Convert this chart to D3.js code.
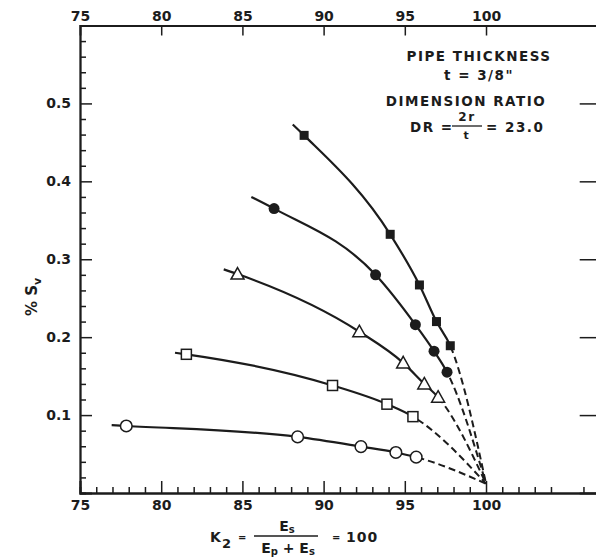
<!DOCTYPE html>
<html>
<head>
<meta charset="utf-8">
<script src="https://cdn.jsdelivr.net/npm/d3@7"></script>
<style>
  body { margin: 0; background: #fff; }
  svg { display: block; font-family: "DejaVu Sans", sans-serif; font-weight: bold; }
</style>
</head>
<body>
<div id="chart"></div>
<script>
// --- data ---
const k2Ticks = [75, 80, 85, 90, 95, 100];
const k2Minor = d3.range(76, 107);
const svTicks = [0.1, 0.2, 0.3, 0.4, 0.5];
const svMinor = d3.range(0.02, 0.6, 0.02);

const filledSquareK2 = [88.8, 94.1, 95.9, 96.95, 97.8];
const filledSquareSv = [0.459, 0.332, 0.267, 0.220, 0.189];
const filledCircleK2 = [86.95, 93.2, 95.65, 96.8, 97.6];
const filledCircleSv = [0.365, 0.280, 0.216, 0.182, 0.155];
const triangleK2 = [84.7, 92.2, 94.9, 96.2, 97.05];
const triangleSv = [0.281, 0.207, 0.167, 0.140, 0.123];
const openSquareK2 = [81.55, 90.55, 93.9, 95.5];
const openSquareSv = [0.178, 0.138, 0.114, 0.098];
const openCircleK2 = [77.85, 88.4, 92.3, 94.45, 95.7];
const openCircleSv = [0.086, 0.072, 0.0595, 0.052, 0.046];

// where each faired curve starts (a little left of its first point)
const curveStartK2 = [88.1, 85.55, 83.85, 80.85, 76.95];
const curveStartSv = [0.473, 0.380, 0.287, 0.180, 0.087];
// dashed extrapolations all meet here
const meetK2 = 100, meetSv = 0.012;

const ink = "#1c1c1c";
const W = 596, H = 559;

const svg = d3.select("#chart").append("svg")
  .attr("width", W).attr("height", H);

const x = d3.scaleLinear().domain([75, 107]).range([80, 599.7]);
const y = d3.scaleLinear().domain([0, 0.6]).range([493, 25.5]);

// --- axes ---
const axisStyle = g => {
  g.select(".domain").attr("stroke", ink).attr("stroke-width", 1.8);
  g.selectAll(".tick line").attr("stroke", ink).attr("stroke-width", 1.5);
  g.selectAll(".tick text").attr("fill", ink).attr("font-size", 14)
    .attr("font-family", "DejaVu Sans").attr("font-weight", "bold");
};

// bottom: minor every 1, major every 5, ticks pointing in
svg.append("g")
  .attr("transform", `translate(0,${y(0)})`)
  .call(d3.axisBottom(x).tickValues(k2Minor.filter(v => v % 5 !== 0))
    .tickSize(-6).tickFormat(""))
  .call(axisStyle);
svg.append("g")
  .attr("transform", `translate(0,${y(0)})`)
  .call(d3.axisBottom(x).tickValues(k2Ticks).tickSize(-12))
  .call(axisStyle)
  .call(g => g.selectAll(".tick text").attr("dy", "0.35em").attr("y", 12));

// top: major only
svg.append("g")
  .attr("transform", `translate(0,${y(0.6)})`)
  .call(d3.axisTop(x).tickValues(k2Ticks).tickSize(-10))
  .call(axisStyle)
  .call(g => g.selectAll(".tick line").filter(d => d === 75).remove())
  .call(g => g.selectAll(".tick text").attr("y", -5));

// left: minor every 0.02, major every 0.1
svg.append("g")
  .attr("transform", `translate(${x(75)},0)`)
  .call(d3.axisLeft(y).tickValues(svMinor.filter(v => Math.round(v * 100) % 10 !== 0))
    .tickSize(-6).tickFormat(""))
  .call(axisStyle);
svg.append("g")
  .attr("transform", `translate(${x(75)},0)`)
  .call(d3.axisLeft(y).tickValues(svTicks).tickSize(-12)
    .tickFormat(d3.format(".1f")))
  .call(axisStyle)
  .call(g => g.selectAll(".tick text").attr("x", -9));

// right: major only
svg.append("g")
  .attr("transform", `translate(${x(107)},0)`)
  .call(d3.axisRight(y).tickValues(svTicks).tickSize(-20).tickFormat(""))
  .call(axisStyle);

// --- curves ---
const series = [
  { k2: filledSquareK2, sv: filledSquareSv, mark: "fsquare" },
  { k2: filledCircleK2, sv: filledCircleSv, mark: "fcircle" },
  { k2: triangleK2, sv: triangleSv, mark: "triangle" },
  { k2: openSquareK2, sv: openSquareSv, mark: "osquare" },
  { k2: openCircleK2, sv: openCircleSv, mark: "ocircle" }
];

const line = d3.line()
  .x(d => x(d[0])).y(d => y(d[1]))
  .curve(d3.curveMonotoneX);

const defs = svg.append("defs");

series.forEach((s, i) => {
  const pts = [[curveStartK2[i], curveStartSv[i]]]
    .concat(s.k2.map((k, j) => [k, s.sv[j]]))
    .concat([[meetK2, meetSv]]);
  const cut = x(s.k2[s.k2.length - 1]);

  defs.append("clipPath").attr("id", "solid" + i)
    .append("rect").attr("x", 0).attr("y", 0).attr("width", cut).attr("height", H);
  defs.append("clipPath").attr("id", "dash" + i)
    .append("rect").attr("x", cut).attr("y", 0).attr("width", W - cut).attr("height", H);

  svg.append("path").datum(pts)
    .attr("d", line).attr("fill", "none")
    .attr("stroke", ink).attr("stroke-width", 2.2)
    .attr("clip-path", `url(#solid${i})`);
  svg.append("path").datum(pts)
    .attr("d", line).attr("fill", "none")
    .attr("stroke", ink).attr("stroke-width", 2)
    .attr("stroke-dasharray", "7,4")
    .attr("clip-path", `url(#dash${i})`);
});

// --- markers ---
series.forEach(s => {
  const g = svg.append("g");
  s.k2.forEach((k, j) => {
    const cx = x(k), cy = y(s.sv[j]);
    if (s.mark === "fsquare") {
      g.append("rect").attr("x", cx - 4.5).attr("y", cy - 4.5)
        .attr("width", 9).attr("height", 9).attr("fill", ink);
    } else if (s.mark === "fcircle") {
      g.append("circle").attr("cx", cx).attr("cy", cy).attr("r", 5.5).attr("fill", ink);
    } else if (s.mark === "triangle") {
      g.append("path")
        .attr("d", `M${cx},${cy - 6.5}L${cx + 6.5},${cy + 5}L${cx - 6.5},${cy + 5}Z`)
        .attr("fill", "#fff").attr("stroke", ink).attr("stroke-width", 1.5);
    } else if (s.mark === "osquare") {
      g.append("rect").attr("x", cx - 5).attr("y", cy - 5)
        .attr("width", 10).attr("height", 10)
        .attr("fill", "#fff").attr("stroke", ink).attr("stroke-width", 1.5);
    } else {
      g.append("circle").attr("cx", cx).attr("cy", cy).attr("r", 5.8)
        .attr("fill", "#fff").attr("stroke", ink).attr("stroke-width", 1.5);
    }
  });
});

// --- annotation block ---
const note = svg.append("g").attr("fill", ink).attr("font-size", 13.5)
  .attr("text-anchor", "middle").attr("letter-spacing", 1.5);
note.append("text").attr("x", 479).attr("y", 61).text("PIPE THICKNESS");
note.append("text").attr("x", 479).attr("y", 80).text("t = 3/8\"");
note.append("text").attr("x", 466).attr("y", 106).text("DIMENSION RATIO");
note.append("text").attr("x", 410).attr("y", 132).attr("text-anchor", "start").text("DR =");
note.append("text").attr("x", 467).attr("y", 121).attr("font-size", 12).text("2r");
note.append("line").attr("x1", 452).attr("x2", 482).attr("y1", 126).attr("y2", 126)
  .attr("stroke", ink).attr("stroke-width", 1.3);
note.append("text").attr("x", 467).attr("y", 139).attr("font-size", 11).text("t");
note.append("text").attr("x", 486).attr("y", 132).attr("text-anchor", "start").text("= 23.0");

// --- axis titles ---
const ylab = svg.append("text")
  .attr("transform", "translate(37,297) rotate(-90)")
  .attr("text-anchor", "middle").attr("fill", ink).attr("font-size", 15);
ylab.append("tspan").text("% S");
ylab.append("tspan").attr("font-size", 11).attr("dy", 4).text("v");

const xlab = svg.append("g").attr("fill", ink).attr("font-size", 14);
xlab.append("text").attr("x", 210).attr("y", 542).text("K");
xlab.append("text").attr("x", 222).attr("y", 548).attr("font-size", 13).text("2");
xlab.append("text").attr("x", 238).attr("y", 541).attr("font-size", 10).text("=");
xlab.append("line").attr("x1", 254).attr("x2", 318).attr("y1", 536).attr("y2", 536)
  .attr("stroke", ink).attr("stroke-width", 1.3);
xlab.append("text").attr("x", 287).attr("y", 531).attr("text-anchor", "middle")
  .call(t => { t.append("tspan").text("E"); t.append("tspan").attr("font-size", 10).attr("dy", 2).text("s"); });
xlab.append("text").attr("x", 288).attr("y", 553).attr("text-anchor", "middle")
  .call(t => {
    t.append("tspan").text("E");
    t.append("tspan").attr("font-size", 10).attr("dy", 2).text("p");
    t.append("tspan").attr("dy", -2).text(" + E");
    t.append("tspan").attr("font-size", 10).attr("dy", 2).text("s");
  });
xlab.append("text").attr("x", 332).attr("y", 541).attr("font-size", 10).text("=");
xlab.append("text").attr("x", 346).attr("y", 542).attr("letter-spacing", 1).text("100");
</script>
</body>
</html>
